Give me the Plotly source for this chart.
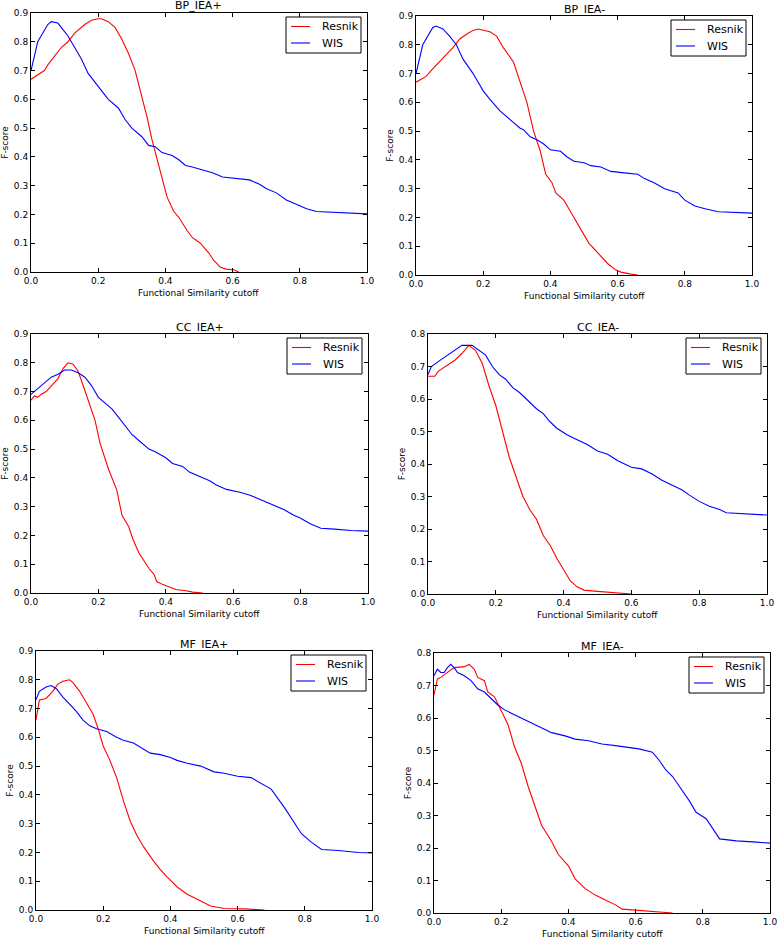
import plotly.graph_objects as go

W, H = 778, 940

titles = ["BP_IEA+", "BP_IEA-", "CC_IEA+", "CC_IEA-", "MF_IEA+", "MF_IEA-"]
ymax = [0.9, 0.9, 0.9, 0.8, 0.9, 0.8]
series_names = ["Resnik", "WIS"]
series_colors = ["red", "blue"]

# BP_IEA+
bp_p_res_x = [0, 0.02, 0.04, 0.05, 0.07, 0.09, 0.11, 0.13, 0.16, 0.18, 0.2, 0.21, 0.23, 0.25, 0.27, 0.29, 0.31, 0.33, 0.345, 0.36, 0.375, 0.39, 0.405, 0.425, 0.44, 0.464, 0.48, 0.504, 0.53, 0.544, 0.563, 0.58, 0.603, 0.618]
bp_p_res_y = [0.67, 0.685, 0.70, 0.72, 0.75, 0.78, 0.80, 0.83, 0.86, 0.875, 0.88, 0.88, 0.87, 0.85, 0.81, 0.76, 0.70, 0.61, 0.54, 0.46, 0.39, 0.33, 0.26, 0.21, 0.19, 0.145, 0.12, 0.10, 0.065, 0.04, 0.017, 0.01, 0.008, 0.0]
bp_p_wis_x = [0, 0.02, 0.05, 0.06, 0.08, 0.09, 0.11, 0.13, 0.15, 0.17, 0.19, 0.21, 0.23, 0.26, 0.28, 0.30, 0.33, 0.35, 0.37, 0.39, 0.42, 0.44, 0.46, 0.48, 0.51, 0.54, 0.57, 0.61, 0.65, 0.68, 0.70, 0.73, 0.76, 0.80, 0.82, 0.85, 0.90, 1.0]
bp_p_wis_y = [0.70, 0.80, 0.86, 0.87, 0.865, 0.85, 0.82, 0.78, 0.74, 0.69, 0.66, 0.63, 0.60, 0.57, 0.53, 0.50, 0.47, 0.44, 0.435, 0.415, 0.405, 0.39, 0.37, 0.365, 0.355, 0.345, 0.33, 0.325, 0.32, 0.305, 0.29, 0.275, 0.25, 0.23, 0.22, 0.21, 0.207, 0.202]

# BP_IEA-
bp_m_res_x = [0, 0.02, 0.03, 0.045, 0.06, 0.085, 0.11, 0.13, 0.155, 0.17, 0.185, 0.2, 0.22, 0.24, 0.26, 0.29, 0.31, 0.33, 0.35, 0.37, 0.386, 0.405, 0.416, 0.44, 0.46, 0.475, 0.49, 0.515, 0.535, 0.554, 0.57, 0.594, 0.61, 0.64, 0.66]
bp_m_res_y = [0.67, 0.685, 0.69, 0.71, 0.73, 0.76, 0.79, 0.82, 0.84, 0.85, 0.855, 0.85, 0.845, 0.83, 0.79, 0.74, 0.67, 0.60, 0.50, 0.43, 0.35, 0.32, 0.285, 0.26, 0.22, 0.19, 0.165, 0.11, 0.085, 0.06, 0.04, 0.018, 0.01, 0.003, 0.0]
bp_m_wis_x = [0, 0.02, 0.05, 0.06, 0.08, 0.10, 0.12, 0.14, 0.17, 0.20, 0.22, 0.25, 0.28, 0.31, 0.32, 0.34, 0.36, 0.38, 0.40, 0.43, 0.45, 0.47, 0.50, 0.52, 0.55, 0.58, 0.62, 0.66, 0.68, 0.71, 0.74, 0.78, 0.80, 0.83, 0.86, 0.90, 1.0]
bp_m_wis_y = [0.70, 0.80, 0.86, 0.865, 0.855, 0.83, 0.80, 0.75, 0.70, 0.64, 0.61, 0.57, 0.54, 0.51, 0.505, 0.48, 0.47, 0.455, 0.435, 0.43, 0.41, 0.395, 0.39, 0.38, 0.375, 0.36, 0.355, 0.35, 0.335, 0.32, 0.30, 0.285, 0.26, 0.24, 0.23, 0.22, 0.215]

# CC_IEA+
cc_p_res_x = [0, 0.01, 0.02, 0.03, 0.045, 0.06, 0.08, 0.095, 0.11, 0.125, 0.14, 0.155, 0.17, 0.19, 0.205, 0.23, 0.254, 0.27, 0.29, 0.303, 0.32, 0.333, 0.35, 0.365, 0.373, 0.39, 0.41, 0.43, 0.46, 0.48, 0.51]
cc_p_res_y = [0.67, 0.685, 0.68, 0.69, 0.70, 0.72, 0.745, 0.78, 0.80, 0.795, 0.77, 0.72, 0.67, 0.60, 0.52, 0.43, 0.36, 0.27, 0.23, 0.185, 0.14, 0.115, 0.085, 0.065, 0.04, 0.03, 0.02, 0.012, 0.008, 0.003, 0.0]
cc_p_wis_x = [0, 0.02, 0.04, 0.06, 0.08, 0.10, 0.12, 0.14, 0.16, 0.18, 0.20, 0.22, 0.24, 0.26, 0.28, 0.30, 0.32, 0.35, 0.37, 0.40, 0.42, 0.45, 0.47, 0.49, 0.51, 0.53, 0.55, 0.58, 0.62, 0.65, 0.68, 0.71, 0.75, 0.78, 0.80, 0.83, 0.86, 0.90, 0.95, 1.0]
cc_p_wis_y = [0.69, 0.71, 0.73, 0.75, 0.76, 0.775, 0.775, 0.765, 0.75, 0.72, 0.68, 0.66, 0.64, 0.61, 0.58, 0.55, 0.53, 0.50, 0.49, 0.47, 0.45, 0.44, 0.42, 0.41, 0.40, 0.39, 0.375, 0.36, 0.35, 0.34, 0.325, 0.31, 0.29, 0.27, 0.26, 0.24, 0.225, 0.222, 0.217, 0.215]

# CC_IEA-
cc_m_res_x = [0, 0.02, 0.03, 0.05, 0.08, 0.10, 0.12, 0.14, 0.16, 0.18, 0.20, 0.22, 0.24, 0.26, 0.28, 0.30, 0.32, 0.34, 0.36, 0.38, 0.40, 0.42, 0.44, 0.46, 0.50, 0.55, 0.60]
cc_m_res_y = [0.67, 0.67, 0.685, 0.70, 0.72, 0.74, 0.765, 0.75, 0.71, 0.64, 0.58, 0.50, 0.42, 0.36, 0.30, 0.26, 0.23, 0.18, 0.15, 0.11, 0.075, 0.04, 0.022, 0.012, 0.008, 0.004, 0.0]
cc_m_wis_x = [0, 0.01, 0.03, 0.05, 0.08, 0.10, 0.13, 0.15, 0.17, 0.19, 0.21, 0.23, 0.25, 0.27, 0.29, 0.30, 0.32, 0.34, 0.36, 0.38, 0.41, 0.44, 0.47, 0.50, 0.53, 0.56, 0.60, 0.63, 0.66, 0.69, 0.72, 0.75, 0.77, 0.80, 0.83, 0.86, 0.88, 0.93, 0.98, 1.0]
cc_m_wis_y = [0.675, 0.70, 0.715, 0.73, 0.75, 0.765, 0.765, 0.75, 0.735, 0.70, 0.675, 0.66, 0.635, 0.62, 0.60, 0.59, 0.57, 0.555, 0.53, 0.51, 0.49, 0.475, 0.46, 0.44, 0.43, 0.41, 0.39, 0.385, 0.37, 0.35, 0.335, 0.32, 0.305, 0.285, 0.27, 0.26, 0.25, 0.248, 0.245, 0.243]

# MF_IEA+
mf_p_res_x = [0, 0.01, 0.03, 0.05, 0.065, 0.08, 0.10, 0.11, 0.13, 0.15, 0.17, 0.185, 0.20, 0.22, 0.24, 0.26, 0.28, 0.30, 0.32, 0.35, 0.37, 0.39, 0.42, 0.45, 0.48, 0.52, 0.56, 0.62, 0.68]
mf_p_res_y = [0.66, 0.73, 0.735, 0.76, 0.785, 0.795, 0.80, 0.79, 0.76, 0.72, 0.68, 0.63, 0.57, 0.52, 0.46, 0.38, 0.31, 0.26, 0.22, 0.17, 0.14, 0.115, 0.08, 0.055, 0.038, 0.014, 0.005, 0.004, 0.0]
mf_p_wis_x = [0, 0.01, 0.03, 0.045, 0.06, 0.08, 0.10, 0.12, 0.14, 0.16, 0.18, 0.21, 0.24, 0.26, 0.29, 0.31, 0.34, 0.37, 0.40, 0.42, 0.45, 0.49, 0.53, 0.56, 0.60, 0.64, 0.67, 0.70, 0.74, 0.76, 0.79, 0.82, 0.85, 0.90, 0.96, 1.0]
mf_p_wis_y = [0.73, 0.76, 0.775, 0.78, 0.77, 0.74, 0.715, 0.69, 0.66, 0.64, 0.63, 0.62, 0.60, 0.59, 0.58, 0.565, 0.545, 0.54, 0.53, 0.52, 0.51, 0.50, 0.48, 0.475, 0.465, 0.46, 0.44, 0.42, 0.355, 0.32, 0.265, 0.235, 0.21, 0.207, 0.20, 0.198]

# MF_IEA-
mf_m_res_x = [0, 0.01, 0.02, 0.04, 0.06, 0.09, 0.105, 0.12, 0.13, 0.15, 0.16, 0.18, 0.20, 0.22, 0.24, 0.26, 0.28, 0.30, 0.32, 0.35, 0.37, 0.40, 0.42, 0.45, 0.48, 0.51, 0.54, 0.56, 0.62, 0.66, 0.71]
mf_m_res_y = [0.67, 0.72, 0.725, 0.74, 0.755, 0.758, 0.765, 0.75, 0.725, 0.715, 0.68, 0.665, 0.62, 0.58, 0.51, 0.46, 0.39, 0.33, 0.27, 0.22, 0.18, 0.145, 0.105, 0.075, 0.055, 0.04, 0.025, 0.012, 0.008, 0.004, 0.0]
mf_m_wis_x = [0, 0.01, 0.02, 0.03, 0.04, 0.05, 0.06, 0.07, 0.09, 0.11, 0.13, 0.15, 0.17, 0.19, 0.21, 0.24, 0.27, 0.29, 0.32, 0.35, 0.39, 0.42, 0.46, 0.50, 0.54, 0.58, 0.61, 0.65, 0.67, 0.69, 0.71, 0.73, 0.76, 0.78, 0.81, 0.85, 0.90, 0.96, 1.0]
mf_m_wis_y = [0.73, 0.75, 0.74, 0.74, 0.755, 0.765, 0.755, 0.74, 0.73, 0.715, 0.69, 0.68, 0.66, 0.64, 0.625, 0.61, 0.595, 0.585, 0.57, 0.555, 0.545, 0.535, 0.53, 0.52, 0.515, 0.51, 0.505, 0.495, 0.47, 0.44, 0.42, 0.39, 0.345, 0.31, 0.29, 0.228, 0.222, 0.218, 0.215]

resnik = [(bp_p_res_x, bp_p_res_y), (bp_m_res_x, bp_m_res_y), (cc_p_res_x, cc_p_res_y),
          (cc_m_res_x, cc_m_res_y), (mf_p_res_x, mf_p_res_y), (mf_m_res_x, mf_m_res_y)]
wis = [(bp_p_wis_x, bp_p_wis_y), (bp_m_wis_x, bp_m_wis_y), (cc_p_wis_x, cc_p_wis_y),
       (cc_m_wis_x, cc_m_wis_y), (mf_p_wis_x, mf_p_wis_y), (mf_m_wis_x, mf_m_wis_y)]

# plot boxes in pixels: left, right, top, bottom
boxes = [(31, 367, 13, 272), (416, 752, 16, 275), (31, 368, 334, 593),
         (428, 767, 334, 594), (36, 372, 651, 910), (434, 770, 653, 913)]


def px(x):
    return x / W


def py(y):
    return 1 - y / H


fig = go.Figure()
tick_font = dict(family="DejaVu Sans", size=9, color="black")
shapes = []

for i in range(6):
    n = "" if i == 0 else str(i + 1)
    for (xs, ys), name, col in zip([resnik[i], wis[i]], series_names, series_colors):
        fig.add_trace(go.Scatter(x=xs, y=ys, mode="lines", name=name, showlegend=False,
                                 line=dict(color=col, width=1.1), xaxis="x" + n, yaxis="y" + n))
    l, r, t, b = boxes[i]
    ax = dict(showline=True, linecolor="black", linewidth=1, mirror="ticks", ticks="inside",
              ticklen=4, tickcolor="black", showgrid=False, zeroline=False, tickfont=tick_font,
              automargin=False)
    fig.layout["xaxis" + n] = dict(ax, domain=[px(l), px(r)], anchor="y" + n, range=[0, 1],
                                   dtick=0.2, tickformat=".1f")
    fig.layout["yaxis" + n] = dict(ax, domain=[py(b), py(t)], anchor="x" + n,
                                   range=[0, ymax[i]], dtick=0.1, tickformat=".1f",
                                   title=dict(text="F-score", font=tick_font, standoff=3))
    fig.add_annotation(text=titles[i], x=px((l + r) / 2), y=py(t - 7), xref="paper", yref="paper",
                       xanchor="center", yanchor="middle", showarrow=False,
                       font=dict(family="DejaVu Sans", size=11, color="black"))
    fig.add_annotation(text="Functional Similarity cutoff", x=px((l + r) / 2), y=py(b + 21),
                       xref="paper", yref="paper", xanchor="center", yanchor="middle", showarrow=False,
                       font=tick_font)

    # matplotlib-style legend box in the upper right corner
    lx1, ly0 = r - 6, t + 4
    lx0, ly1 = lx1 - 75, ly0 + 36
    shapes.append(dict(type="rect", xref="paper", yref="paper", x0=px(lx0), x1=px(lx1),
                       y0=py(ly1), y1=py(ly0), line=dict(color="black", width=1),
                       fillcolor="white", layer="above"))
    for k, (name, col) in enumerate(zip(series_names, series_colors)):
        ry = ly0 + 9.5 + k * 16.5
        shapes.append(dict(type="line", xref="paper", yref="paper", x0=px(lx0 + 5), x1=px(lx0 + 24),
                           y0=py(ry), y1=py(ry), line=dict(color=col, width=1.1), layer="above"))
        fig.add_annotation(text=name, x=px(lx0 + 34), y=py(ry), xref="paper", yref="paper",
                           xanchor="left", yanchor="middle", showarrow=False,
                           font=dict(family="DejaVu Sans", size=11, color="black"))

fig.update_layout(template="none", width=W, height=H, margin=dict(l=0, r=0, t=0, b=0),
                  plot_bgcolor="white", paper_bgcolor="white", showlegend=False, shapes=shapes)

# the page body has a default margin; drop it so the figure fills the window
fig.write_html("out.html", config={"displayModeBar": False},
               post_script="document.body.style.margin = '0px';")
